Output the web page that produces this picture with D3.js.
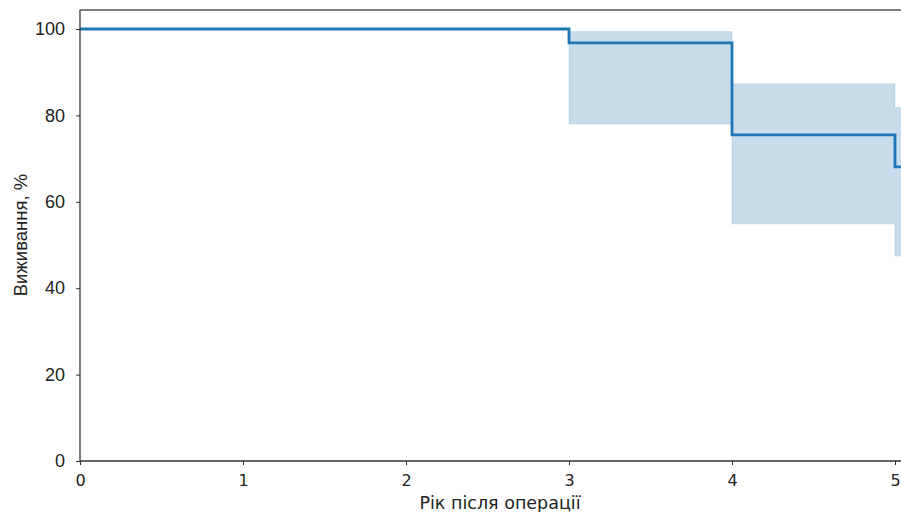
<!DOCTYPE html>
<html><head><meta charset="utf-8">
<script src="https://cdn.jsdelivr.net/npm/d3@7"></script>
<style>body{margin:0;background:#fff}svg{display:block}</style>
</head><body>
<svg id="c" width="901" height="512"></svg>
<script>
// Data: Kaplan-Meier survival steps
const times    = [0, 3, 4, 5, 5.1];
const survival = [100, 96.8, 75.5, 68.1, 68.1];
const ciUpper  = [100, 99.4, 87.3, 81.8, 81.8];
const ciLower  = [100, 78.0, 54.9, 47.5, 47.5];
const xTicks = [0, 1, 2, 3, 4, 5];
const yTicks = [0, 20, 40, 60, 80, 100];
const xLabel = "Рік після операції";
const yLabel = "Виживання, %";

const svg = d3.select("#c");
const x = d3.scaleLinear().domain([0, 5]).range([80, 895]);
const y = d3.scaleLinear().domain([0, 100]).range([461, 29]);
const right = 960;

const data = times.map((t, i) => ({t, s: survival[i], u: ciUpper[i], l: ciLower[i]}));

svg.append("defs").append("clipPath").attr("id", "clip")
  .append("rect").attr("x", 80).attr("y", 10).attr("width", right - 80).attr("height", 451);

const g = svg.append("g").attr("clip-path", "url(#clip)");

// CI band
const area = d3.area().curve(d3.curveStepAfter)
  .x(d => x(d.t)).y0(d => y(d.l)).y1(d => y(d.u));
g.append("path").datum(data.slice(1))
  .attr("d", area)
  .attr("fill", "#1f77b4").attr("fill-opacity", 0.25)
  .attr("stroke", "#1f77b4").attr("stroke-opacity", 0.12).attr("stroke-width", 1.2);

// survival line
const line = d3.line().curve(d3.curveStepAfter).x(d => x(d.t)).y(d => y(d.s));
g.append("path").datum(data).attr("d", line)
  .attr("fill", "none").attr("stroke", "#1f77b4").attr("stroke-width", 2.8);

// axes
const xAxis = d3.axisBottom(x).tickValues(xTicks).tickSize(4).tickPadding(10).tickFormat(d3.format("d"));
const gx = svg.append("g").attr("transform", "translate(0,461)").call(xAxis);
gx.select(".domain").remove();
gx.selectAll("text").attr("font-family", "DejaVu Sans").attr("font-size", 16).attr("fill", "#222");
gx.selectAll("line").attr("stroke", "#333");

const yAxis = d3.axisLeft(y).tickValues(yTicks).tickSize(4).tickPadding(11);
const gy = svg.append("g").attr("transform", "translate(80,0)").call(yAxis);
gy.select(".domain").remove();
gy.selectAll("text").attr("font-family", "Liberation Sans").attr("font-size", 18).attr("fill", "#222");
gy.selectAll("line").attr("stroke", "#333");

// spines
svg.append("line").attr("x1", 80).attr("x2", 80).attr("y1", 10).attr("y2", 461).attr("stroke", "#333").attr("stroke-width", 1.3);
svg.append("line").attr("x1", 80).attr("x2", right).attr("y1", 461).attr("y2", 461).attr("stroke", "#333").attr("stroke-width", 1.3);
svg.append("line").attr("x1", 80).attr("x2", right).attr("y1", 10).attr("y2", 10).attr("stroke", "#555").attr("stroke-width", 1.3);

// labels
svg.append("text").attr("x", 500).attr("y", 509).attr("text-anchor", "middle")
  .attr("font-family", "DejaVu Sans").attr("font-size", 17.5).attr("fill", "#222").text(xLabel);
svg.append("text").attr("transform", "translate(27,235) rotate(-90)").attr("text-anchor", "middle")
  .attr("font-family", "Liberation Sans").attr("font-size", 18.5).attr("fill", "#222").text(yLabel);
</script>
</body></html>
